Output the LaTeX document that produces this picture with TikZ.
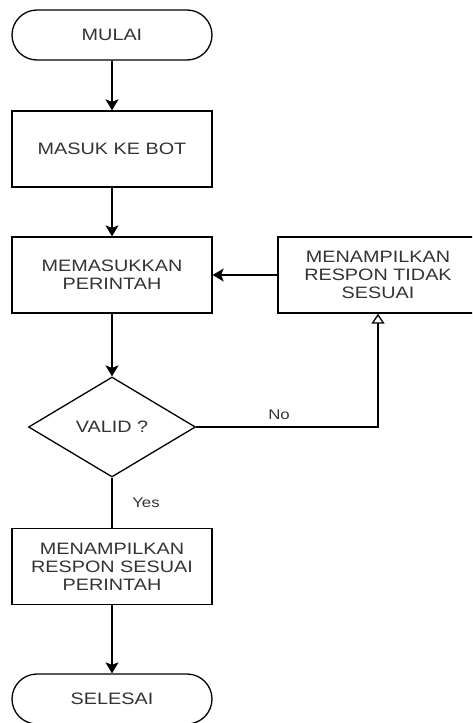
\documentclass[tikz,border=0pt]{standalone}
\usepackage{fontspec}
\setmainfont{Liberation Sans}[FakeStretch=1.2]
\usetikzlibrary{arrows.meta,shapes.geometric}

\tikzset{
  flowbox/.style={draw, line width=1.3pt, minimum width=200pt, minimum height=76pt,
    align=center, text=black!80, font=\fontsize{16.5}{18}\selectfont, inner sep=0pt},
  terminal/.style={flowbox, minimum height=50pt, rounded corners=25pt},
  decision/.style={draw, line width=1.3pt, diamond, aspect=1.67, minimum width=167pt,
    minimum height=100pt, inner sep=0pt, text=black!80, font=\fontsize{16.5}{18}\selectfont},
  flowline/.style={line width=1.3pt, -{Stealth[length=11pt,width=13pt,inset=2.5pt]}},
  edgetext/.style={text=black!80, font=\fontsize{14}{16}\selectfont}
}

\begin{document}
\begin{tikzpicture}[x=1pt,y=1pt]
\useasboundingbox (0,0) rectangle (472,-723);
\clip (0,0) rectangle (472,-723);

\node[terminal] (mulai) at (112,-35) {MULAI};
\node[flowbox] (masuk) at (112,-149) {MASUK KE BOT};
\node[flowbox] (perintah) at (112,-275) {MEMASUKKAN\\PERINTAH};
\node[flowbox] (tidak) at (378,-275) {MENAMPILKAN\\RESPON TIDAK\\SESUAI};
\node[decision] (valid) at (112,-427) {VALID ?};
\node[flowbox] (sesuai) at (112,-566.5) {MENAMPILKAN\\RESPON SESUAI\\PERINTAH};
\node[terminal] (selesai) at (112,-699) {SELESAI};

\draw[flowline] (mulai) -- (masuk);
\draw[flowline] (masuk) -- (perintah);
\draw[flowline] (perintah) -- (valid);
\draw[flowline] (tidak) -- (perintah);
\draw[flowline] (sesuai) -- (selesai);

% cabang tidak valid
\draw[line width=1.3pt, -{Triangle[open,length=10pt,width=13pt]}]
  (valid.east) -- (valid.east -| tidak.south) -- (tidak.south);
\node[edgetext] (no) at (279,-415) {No};

% cabang valid
\draw[line width=1.3pt] (valid.south) -- (sesuai.north);
\node[edgetext] (yes) at (146,-503) {Yes};

\end{tikzpicture}
\end{document}
